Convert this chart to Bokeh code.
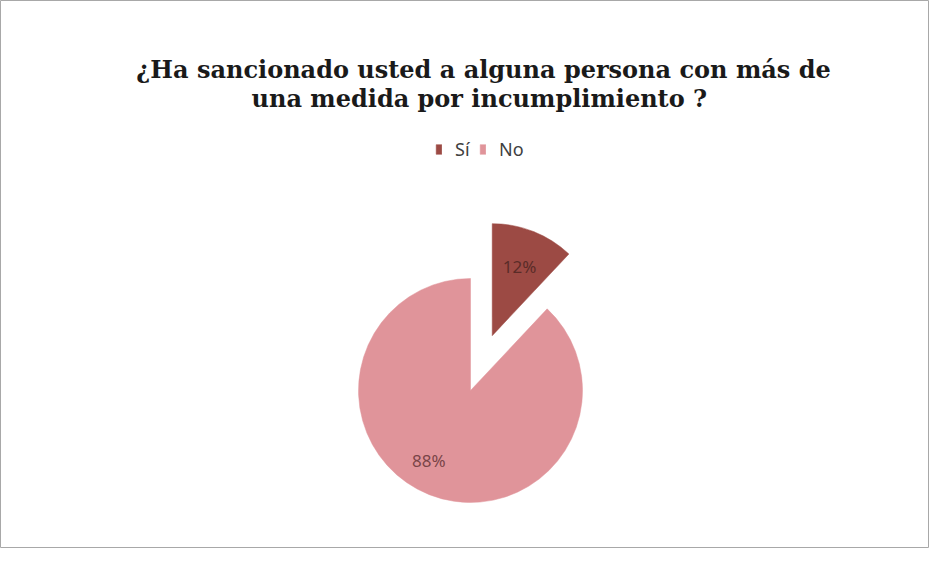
import math
from bokeh.plotting import figure
from bokeh.models import ColumnDataSource, Range1d, Legend, LegendItem
from bokeh.core.properties import value
from bokeh.embed import file_html
from bokeh.resources import INLINE

# ---- data ----
categories = ["Sí", "No"]
values = [12, 88]
colors = ["#9C4A44", "#E0949A"]
label_colors = ["#5a2c28", "#7a4448"]
title_lines = ["¿Ha sancionado usted a alguna persona con más de",
               "una medida por incumplimiento  ?"]

# ---- layout / style ----
W, H = 929, 548
cx, cy, R = 470, 158, 112
explode = [59, 0]
label_dist = [0.665, 0.73]
label_turn = [0.0, -9.0]

total = float(sum(values))
starts, ends, xs, ys, lx, ly, labels = [], [], [], [], [], [], []
cum = 0.0
for i, v in enumerate(values):
    f0 = cum / total
    cum += v
    f1 = cum / total
    s = math.pi / 2 - 2 * math.pi * f1
    e = math.pi / 2 - 2 * math.pi * f0
    mid = (s + e) / 2
    x0 = cx + explode[i] * math.cos(mid)
    y0 = cy + explode[i] * math.sin(mid)
    starts.append(s)
    ends.append(e)
    xs.append(x0)
    ys.append(y0)
    a = mid + math.radians(label_turn[i])
    lx.append(x0 + label_dist[i] * R * math.cos(a))
    ly.append(y0 + label_dist[i] * R * math.sin(a))
    labels.append(f"{round(100 * v / total)}%")

src = ColumnDataSource(dict(cat=categories, x=xs, y=ys, start=starts, end=ends,
                            color=colors, lx=lx, ly=ly, label=labels,
                            lcolor=label_colors))

p = figure(width=W, height=H, output_backend="svg", toolbar_location=None,
           x_range=Range1d(0, W), y_range=Range1d(0, H),
           x_axis_type=None, y_axis_type=None, min_border=0)
p.grid.visible = False
p.outline_line_color = "#a8a8a8"
p.outline_line_width = 1
p.background_fill_color = "white"
p.border_fill_color = "white"

r = p.wedge(x="x", y="y", radius=R, start_angle="start", end_angle="end",
            fill_color="color", line_color="color", line_width=0.5, source=src)

p.text(x="lx", y="ly", text="label", text_color="lcolor", source=src,
       text_font=value("Noto Sans"), text_font_size="17px",
       text_align="center", text_baseline="middle")

# title
p.text(x=[483, 483], y=[479, 450], text=title_lines,
       text_font=value("DejaVu Serif"), text_font_style="bold",
       text_font_size="24px", text_color="#1a1a1a",
       text_align="center", text_baseline="alphabetic")

legend = Legend(items=[LegendItem(label=categories[i], renderers=[r], index=i)
                       for i in range(len(categories))],
                orientation="horizontal", location=(435, 387),
                glyph_width=7, glyph_height=12, label_standoff=13,
                spacing=4, padding=0, margin=0,
                label_text_font="Noto Sans", label_text_font_size="18px",
                label_text_color="#404040",
                border_line_color=None, background_fill_alpha=0)
p.add_layout(legend, "center")

open("out.html", "w").write(file_html(p, INLINE))
